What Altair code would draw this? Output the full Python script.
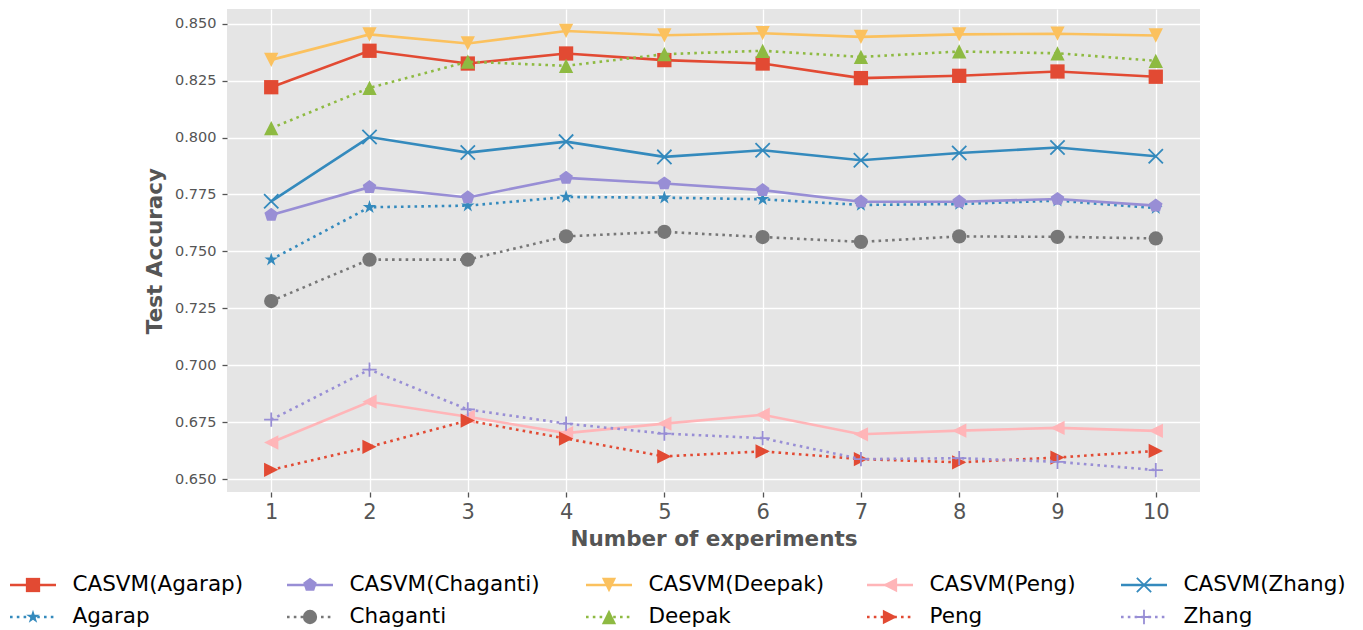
import altair as alt
import pandas as pd

# ---------------- data ----------------
experiments = [1, 2, 3, 4, 5, 6, 7, 8, 9, 10]

casvm_agarap   = [0.8221, 0.8381, 0.8325, 0.8369, 0.8340, 0.8325, 0.8261, 0.8271, 0.8290, 0.8267]
agarap         = [0.7464, 0.7694, 0.7701, 0.7739, 0.7736, 0.7729, 0.7704, 0.7708, 0.7723, 0.7690]
casvm_chaganti = [0.7660, 0.7782, 0.7737, 0.7823, 0.7798, 0.7769, 0.7718, 0.7718, 0.7730, 0.7701]
chaganti       = [0.7282, 0.7464, 0.7464, 0.7566, 0.7586, 0.7563, 0.7542, 0.7566, 0.7564, 0.7557]
casvm_deepak   = [0.8341, 0.8453, 0.8413, 0.8468, 0.8449, 0.8458, 0.8442, 0.8453, 0.8456, 0.8448]
deepak         = [0.8041, 0.8218, 0.8333, 0.8315, 0.8366, 0.8381, 0.8354, 0.8378, 0.8370, 0.8337]
casvm_peng     = [0.6661, 0.6840, 0.6774, 0.6702, 0.6744, 0.6783, 0.6697, 0.6713, 0.6725, 0.6712]
peng           = [0.6541, 0.6642, 0.6757, 0.6678, 0.6600, 0.6622, 0.6588, 0.6574, 0.6595, 0.6624]
casvm_zhang    = [0.7720, 0.8002, 0.7934, 0.7982, 0.7915, 0.7944, 0.7900, 0.7932, 0.7956, 0.7918]
zhang          = [0.6761, 0.6981, 0.6806, 0.6744, 0.6700, 0.6680, 0.6588, 0.6592, 0.6576, 0.6540]

series_names = ["CASVM(Agarap)", "Agarap", "CASVM(Chaganti)", "Chaganti",
                "CASVM(Deepak)", "Deepak", "CASVM(Peng)", "Peng",
                "CASVM(Zhang)", "Zhang"]
series_values = [casvm_agarap, agarap, casvm_chaganti, chaganti,
                 casvm_deepak, deepak, casvm_peng, peng, casvm_zhang, zhang]

y_ticks = [0.650, 0.675, 0.700, 0.725, 0.750, 0.775, 0.800, 0.825, 0.850]

# ---------------- styles ----------------
colors = ["#E24A33", "#348ABD", "#988ED5", "#777777", "#FBC15E",
          "#8EBA42", "#FFB5B8", "#E24A33", "#348ABD", "#988ED5"]
dotted = [False, True, False, True, False, True, False, True, False, True]
filled = [True, True, True, True, True, True, True, True, False, False]

SQUARE = "M-1,-1L1,-1L1,1L-1,1Z"
STAR = ("M0,-1L0.2245,-0.309L0.951,-0.309L0.363,0.118L0.588,0.809L0,0.382"
        "L-0.588,0.809L-0.363,0.118L-0.951,-0.309L-0.2245,-0.309Z")
PENTAGON = "M0,-1L0.951,-0.309L0.588,0.809L-0.588,0.809L-0.951,-0.309Z"
CIRCLE = "circle"
TRI_DOWN = "M-1,-1L1,-1L0,1Z"
TRI_UP = "M0,-1L1,1L-1,1Z"
TRI_LEFT = "M-1,0L1,-1L1,1Z"
TRI_RIGHT = "M1,0L-1,-1L-1,1Z"
XMARK = "M-1,-1L1,1M-1,1L1,-1"
PLUS = "M-1,0L1,0M0,-1L0,1"
shapes = [SQUARE, STAR, PENTAGON, CIRCLE, TRI_DOWN, TRI_UP, TRI_LEFT, TRI_RIGHT, XMARK, PLUS]

FONT = "DejaVu Sans"
GREY = "#555555"
LW = 2.6
DASH = [2.6, 4.2]
MSIZE = 204

# ---------------- tables ----------------
rows = []
for name, vals in zip(series_names, series_values):
    for e, v in zip(experiments, vals):
        rows.append({"series": name, "experiment": e, "accuracy": v})
df = pd.DataFrame(rows)

legend_df = pd.DataFrame({
    "series": series_names,
    "col": [i // 2 for i in range(len(series_names))],
    "row": [i % 2 for i in range(len(series_names))],
    "dotted": dotted,
    "filled": filled,
})

all_vals = [v for vals in series_values for v in vals]
ymin, ymax = min(all_vals), max(all_vals)
ymargin = 0.05 * (ymax - ymin)
xmargin = 0.05 * (max(experiments) - min(experiments))

x_scale = alt.Scale(domain=[min(experiments) - xmargin, max(experiments) + xmargin], nice=False, zero=False)
y_scale = alt.Scale(domain=[ymin - ymargin, ymax + ymargin], nice=False, zero=False)
color_scale = alt.Scale(domain=series_names, range=colors)

x_axis = alt.Axis(values=experiments, title="Number of experiments", grid=True,
                  gridColor="white", gridWidth=1.3, domain=False,
                  tickColor=GREY, tickSize=5, tickWidth=1.3,
                  labelFont=FONT, labelFontSize=21, labelColor=GREY, labelPadding=4,
                  titleFont=FONT, titleFontSize=21.5, titleFontWeight="bold",
                  titleColor=GREY, titlePadding=6)
y_axis = alt.Axis(values=y_ticks, format=".3f", title="Test Accuracy", grid=True,
                  gridColor="white", gridWidth=1.3, domain=False,
                  tickColor=GREY, tickSize=5, tickWidth=1.3,
                  labelFont=FONT, labelFontSize=14.5, labelColor=GREY, labelPadding=6,
                  titleFont=FONT, titleFontSize=21.5, titleFontWeight="bold",
                  titleColor=GREY, titlePadding=8)

enc = dict(
    x=alt.X("experiment:Q", scale=x_scale, axis=x_axis),
    y=alt.Y("accuracy:Q", scale=y_scale, axis=y_axis),
    color=alt.Color("series:N", scale=color_scale, legend=None),
)

main_layers = []
for name, dot, fill, shp in zip(series_names, dotted, filled, shapes):
    base = alt.Chart(df).transform_filter(alt.datum.series == name)
    if dot:
        line = base.mark_line(strokeWidth=LW, strokeDash=DASH, strokeCap="butt")
    else:
        line = base.mark_line(strokeWidth=LW)
    pts = base.mark_point(shape=shp, size=MSIZE, filled=fill, opacity=1,
                          strokeWidth=(1.0 if fill else 1.8))
    main_layers.append(line.encode(**enc))
    main_layers.append(pts.encode(**enc))
main = alt.layer(*main_layers)

# ---------------- legend (two rows, five columns) ----------------
leg_x = alt.X("col:Q", scale=alt.Scale(domain=[0, 1, 2, 3, 4],
                                         range=[-217, 60, 359, 640, 894],
                                         nice=False, zero=False), axis=None)
leg_y = alt.Y("row:Q", scale=alt.Scale(domain=[0, 1], range=[576, 608],
                                         nice=False, zero=False), axis=None)
leg_color = alt.Color("series:N", scale=color_scale, legend=None)
leg_shape = alt.Shape("series:N", scale=alt.Scale(domain=series_names, range=shapes), legend=None)

leg_base = alt.Chart(legend_df)
leg_solid = leg_base.transform_filter("!datum.dotted").mark_rule(
    strokeWidth=LW, x2Offset=46).encode(x=leg_x, x2="col:Q", y=leg_y, color=leg_color)
leg_dot = leg_base.transform_filter("datum.dotted").mark_rule(
    strokeWidth=LW, x2Offset=46, strokeDash=DASH, strokeCap="butt").encode(
    x=leg_x, x2="col:Q", y=leg_y, color=leg_color)
leg_fill = leg_base.transform_filter("datum.filled").mark_point(
    xOffset=23, size=MSIZE, filled=True, opacity=1, strokeWidth=1.0).encode(
    x=leg_x, y=leg_y, color=leg_color, shape=leg_shape)
leg_open = leg_base.transform_filter("!datum.filled").mark_point(
    xOffset=23, size=MSIZE, filled=False, opacity=1, strokeWidth=1.8).encode(
    x=leg_x, y=leg_y, color=leg_color, shape=leg_shape)
leg_text = leg_base.mark_text(align="left", baseline="middle", dx=62.5,
                              font=FONT, fontSize=21.5, color="black").encode(
    x=leg_x, y=leg_y, text="series:N")
legend = alt.layer(leg_solid, leg_dot, leg_fill, leg_open, leg_text)

chart = (
    alt.layer(main, legend)
    .resolve_scale(x="independent", y="independent")
    .properties(width=973, height=483,
                padding={"left": 8, "top": 9, "right": 0, "bottom": 0},
                background="white")
    .configure_view(fill="#E5E5E5", strokeWidth=0)
)

chart.save("out.html", embed_options={"renderer": "svg", "actions": False})
